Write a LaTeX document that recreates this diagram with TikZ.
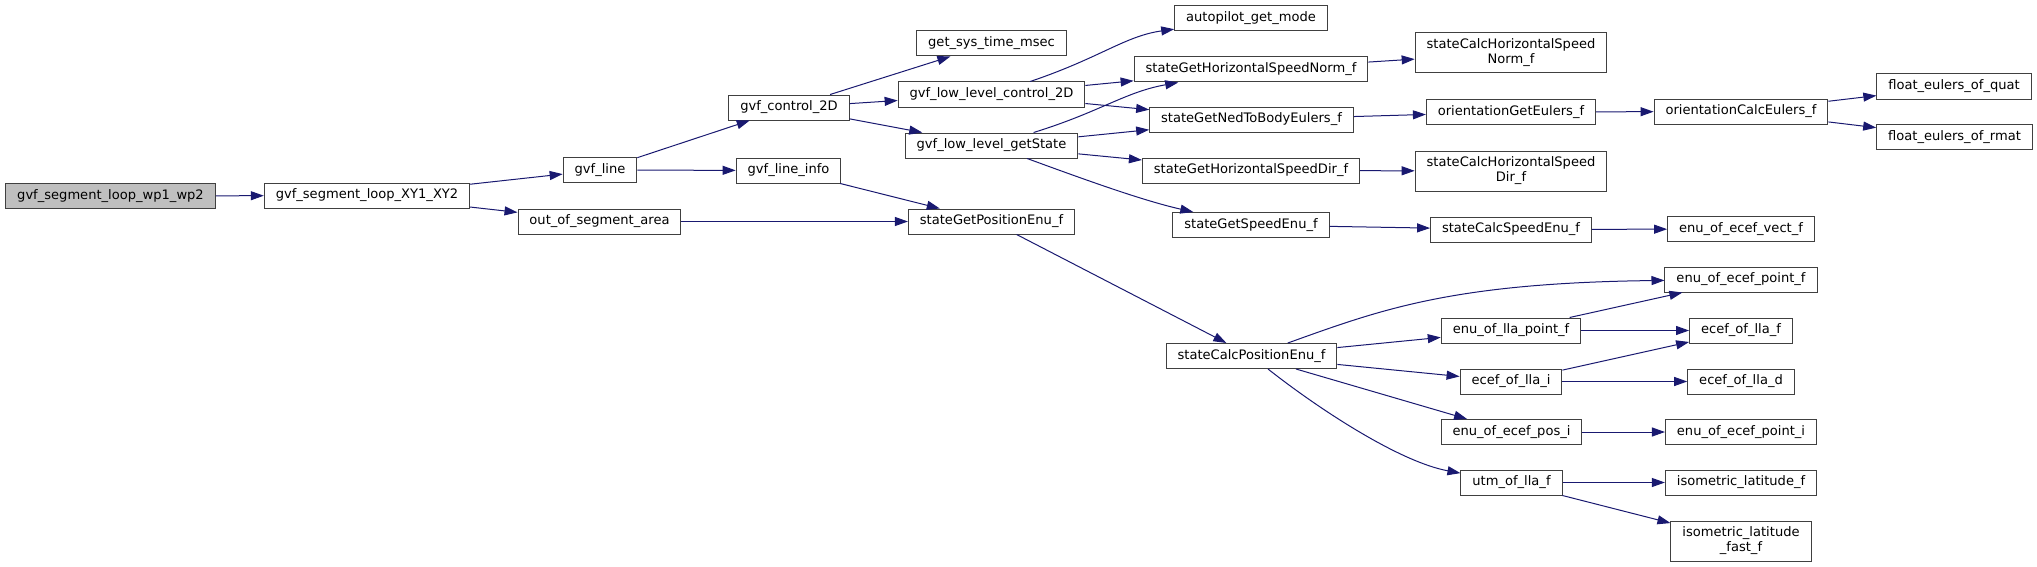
\documentclass[tikz,border=0pt]{standalone}
\usepackage{fontspec}
\setmainfont{DejaVu Sans}
\usepackage{xcolor}
\usepackage{tikz}
\usetikzlibrary{arrows.meta}
\definecolor{callblue}{HTML}{191970}
\definecolor{boxframe}{HTML}{404040}
\definecolor{rootfill}{HTML}{BFBFBF}
\tikzset{
  fn/.style={rectangle, draw=boxframe, fill=white, line width=0.75pt,
             font=\fontsize{9.8pt}{11.25pt}\selectfont,
             inner xsep=8.6pt, inner ysep=0pt, minimum height=18.75pt},
  fnone/.style={fn, text height=7.3pt, text depth=2.3pt},
  fntwo/.style={fn, align=center, minimum height=30pt},
  root/.style={fnone, fill=rootfill},
  call/.style={-{Triangle[length=9.75pt, width=6.75pt]}, line width=0.75pt, callblue},
}
\begin{document}
\begin{tikzpicture}[x=0.75pt, y=-0.75pt]
  \useasboundingbox (0,0) rectangle (2037,567);
  \node[root] (wpwp) at (110.5,196) {gvf\_segment\_loop\_wp1\_wp2};
  \node[fnone] (xyxy) at (367,195.5) {gvf\_segment\_loop\_XY1\_XY2};
  \node[fnone] (line) at (600,170) {gvf\_line};
  \node[fnone] (oosa) at (599.5,221.5) {out\_of\_segment\_area};
  \node[fnone] (ctrl) at (789,107.5) {gvf\_control\_2D};
  \node[fnone] (info) at (788.5,170.5) {gvf\_line\_info};
  \node[fnone] (getpos) at (991.5,221.5) {stateGetPositionEnu\_f};
  \node[fnone] (systime) at (991.5,43.5) {get\_sys\_time\_msec};
  \node[fnone] (llctrl) at (991.5,94.5) {gvf\_low\_level\_control\_2D};
  \node[fnone] (llstate) at (991.5,145.5) {gvf\_low\_level\_getState};
  \node[fnone] (apmode) at (1251,18.5) {autopilot\_get\_mode};
  \node[fnone] (gethsn) at (1251,69.5) {stateGetHorizontalSpeedNorm\_f};
  \node[fnone] (getned) at (1251.5,119.5) {stateGetNedToBodyEulers\_f};
  \node[fnone] (gethsd) at (1251,170.5) {stateGetHorizontalSpeedDir\_f};
  \node[fnone] (getspd) at (1251,225) {stateGetSpeedEnu\_f};
  \node[fnone] (calcpos) at (1251.5,356) {stateCalcPositionEnu\_f};
  \node[fntwo] (calchsn) at (1511,53) {stateCalcHorizontalSpeed\\Norm\_f};
  \node[fnone] (orieul) at (1511,112) {orientationGetEulers\_f};
  \node[fntwo] (calchsd) at (1511,171) {stateCalcHorizontalSpeed\\Dir\_f};
  \node[fnone] (calcspd) at (1511,229.5) {stateCalcSpeedEnu\_f};
  \node[fnone] (llapt) at (1511,330.5) {enu\_of\_lla\_point\_f};
  \node[fnone] (eclli) at (1511,381.5) {ecef\_of\_lla\_i};
  \node[fnone] (ecposi) at (1511.5,432) {enu\_of\_ecef\_pos\_i};
  \node[fnone] (utm) at (1511.5,482.5) {utm\_of\_lla\_f};
  \node[fnone] (oricalc) at (1741,111.5) {orientationCalcEulers\_f};
  \node[fnone] (ecvect) at (1741,229) {enu\_of\_ecef\_vect\_f};
  \node[fnone] (ecptf) at (1741,279.5) {enu\_of\_ecef\_point\_f};
  \node[fnone] (ecllf) at (1741,330.5) {ecef\_of\_lla\_f};
  \node[fnone] (eclld) at (1741,381.5) {ecef\_of\_lla\_d};
  \node[fnone] (ecpti) at (1741,432) {enu\_of\_ecef\_point\_i};
  \node[fnone] (isolat) at (1741,482.5) {isometric\_latitude\_f};
  \node[fntwo] (isofast) at (1741,541) {isometric\_latitude\\\_fast\_f};
  \node[fnone] (quat) at (1954,86.5) {float\_eulers\_of\_quat};
  \node[fnone] (rmat) at (1954.5,137) {float\_eulers\_of\_rmat};
  \draw[call] (wpwp) -- (xyxy);
  \draw[call] (xyxy) -- (line); \draw[call] (xyxy) -- (oosa);
  \draw[call] (line) -- (ctrl); \draw[call] (line) -- (info);
  \draw[call] (oosa) -- (getpos); \draw[call] (info) -- (getpos);
  \draw[call] (ctrl) -- (systime); \draw[call] (ctrl) -- (llctrl); \draw[call] (ctrl) -- (llstate);
  \draw[call] (getpos) -- (calcpos);
  \draw[call] (llctrl) .. controls (1100,58) and (1125,36) .. (apmode);
  \draw[call] (llctrl) -- (gethsn); \draw[call] (llctrl) -- (getned);
  \draw[call] (llstate) .. controls (1100,112) and (1125,92) .. (gethsn);
  \draw[call] (llstate) -- (getned); \draw[call] (llstate) -- (gethsd);
  \draw[call] (llstate) .. controls (1075,176) and (1140,200) .. (getspd);
  \draw[call] (gethsn) -- (calchsn); \draw[call] (getned) -- (orieul);
  \draw[call] (orieul) -- (oricalc);
  \draw[call] (oricalc) -- (quat); \draw[call] (oricalc) -- (rmat);
  \draw[call] (gethsd) -- (calchsd);
  \draw[call] (getspd) -- (calcspd); \draw[call] (calcspd) -- (ecvect);
  \draw[call] (calcpos) .. controls (1380,310) and (1450,283) .. (ecptf);
  \draw[call] (calcpos) -- (llapt); \draw[call] (calcpos) -- (eclli);
  \draw[call] (calcpos) -- (ecposi);
  \draw[call] (calcpos) .. controls (1320,410) and (1400,462) .. (utm);
  \draw[call] (llapt) -- (ecptf); \draw[call] (llapt) -- (ecllf);
  \draw[call] (eclli) -- (ecllf); \draw[call] (eclli) -- (eclld);
  \draw[call] (ecposi) -- (ecpti);
  \draw[call] (utm) -- (isolat); \draw[call] (utm) -- (isofast);
\end{tikzpicture}
\end{document}
